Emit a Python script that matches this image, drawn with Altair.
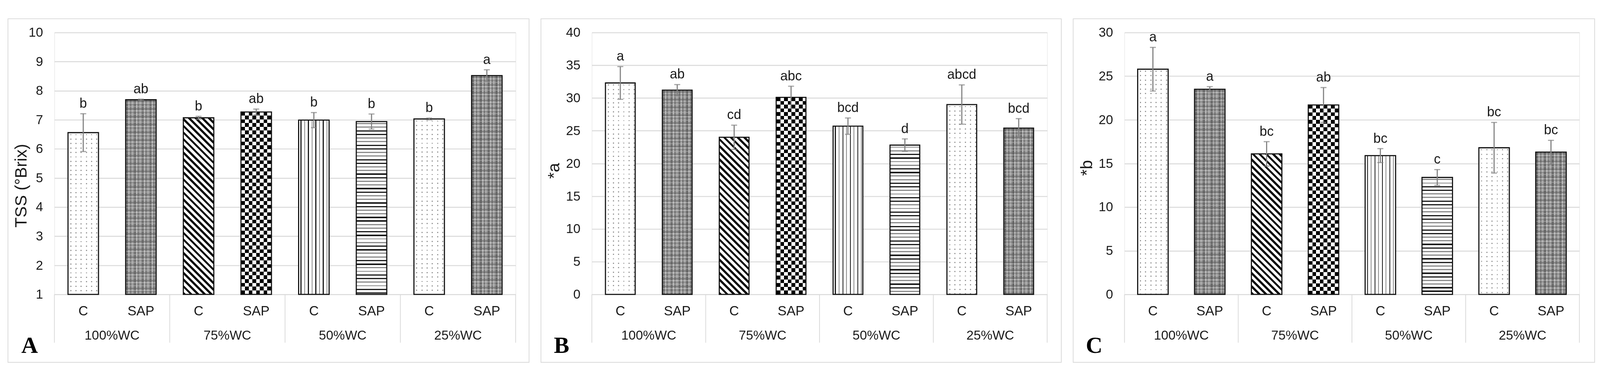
import math
import altair as alt
import pandas as pd

# ---------------- data ----------------
groups = ["100%WC", "75%WC", "50%WC", "25%WC"]
treatments = ["C", "SAP"]

tss_mean = [6.56, 7.69, 7.07, 7.27, 6.99, 6.94, 7.03, 8.52]
tss_se = [0.65, 0.02, 0.05, 0.10, 0.26, 0.26, 0.03, 0.20]
tss_letters = ["b", "ab", "b", "ab", "b", "b", "b", "a"]

a_mean = [32.3, 31.2, 24.0, 30.1, 25.7, 22.8, 29.0, 25.4]
a_se = [2.5, 0.85, 1.85, 1.7, 1.25, 0.95, 3.0, 1.45]
a_letters = ["a", "ab", "cd", "abc", "bcd", "d", "abcd", "bcd"]

b_mean = [25.8, 23.5, 16.1, 21.7, 15.9, 13.4, 16.8, 16.3]
b_se = [2.5, 0.3, 1.4, 2.0, 0.8, 0.9, 2.9, 1.35]
b_letters = ["a", "a", "bc", "ab", "bc", "c", "bc", "bc"]

tss_ticks = [1, 2, 3, 4, 5, 6, 7, 8, 9, 10]
a_ticks = [0, 5, 10, 15, 20, 25, 30, 35, 40]
b_ticks = [0, 5, 10, 15, 20, 25, 30]

# ---------------- styles ----------------
FONT = "Liberation Sans"
TXT = "#1a1a1a"
GRID = "#d9d9d9"
EBAR = "#808080"
PH = 705
FRAME_TOP = 37
FRAME_BOTTOM = 183

cats = [f"{g}|{t}" for g in groups for t in treatments]
patterns = ["dots", "plaid", "diag", "checker", "vlines", "hlines", "dots", "plaid"]


def stripe_stops(L, period, marks, bg, phase=0.0, denom=None):
    denom = denom or L
    iv = []
    n = int(math.ceil((L + abs(phase)) / period)) + 2
    for k in range(-2, n):
        base = k * period - phase
        for (a, b, c) in marks:
            s, e = max(base + a, 0.0), min(base + b, L)
            if e > s:
                iv.append((s, e, c))
    iv.sort(key=lambda r: r[0])
    stops = []
    pos = 0.0
    for s, e, c in iv:
        if s > pos:
            stops += [(pos, bg), (s, bg)]
        stops += [(s, c), (e, c)]
        pos = e
    if pos < L:
        stops += [(pos, bg), (L, bg)]
    out = []
    last = 0.0
    for p, c in stops:
        off = max(last, round(p / denom, 5))
        last = off
        out.append({"offset": off, "color": c})
    return out


def g_vert(W, period, marks, bg, phase=0.0):
    return {"gradient": "linear", "x1": 0, "y1": 0, "x2": 1, "y2": 0,
            "stops": stripe_stops(W, period, marks, bg, phase)}


def g_horz(H, period, marks, bg, phase=0.0):
    return {"gradient": "linear", "x1": 0, "y1": 0, "x2": 0, "y2": 1,
            "stops": stripe_stops(H, period, marks, bg, phase)}


def g_diag(W, H, period, marks, bg):
    D = W + H * H / W
    return {"gradient": "linear", "x1": 0, "y1": 1, "x2": 1, "y2": 1 - H / W,
            "stops": stripe_stops(W + H, period, marks, bg, 0.0, denom=D)}


def pattern_layers(kind, W, H):
    if kind == "dots":
        return [(g_horz(H, 12, [(0, 3, "#9a9a9a")], "#ffffff", phase=-4), {}),
                (g_vert(W, 14, [(0, 3, "rgba(255,255,255,0)")], "#ffffff", phase=-6), {})]
    if kind == "plaid":
        mv = [(0, 4, "#666666"), (6, 8, "#c4c4c4"), (10, 12, "#747474"), (15, 17, "#b8b8b8")]
        mh = [(0, 4, "rgba(95,95,95,0.5)"), (6, 8, "rgba(210,210,210,0.5)"),
              (10, 12, "rgba(110,110,110,0.5)"), (15, 17, "rgba(190,190,190,0.5)")]
        return [(g_vert(W, 21, mv, "#909090", phase=-2), {}),
                (g_horz(H, 21, mh, "rgba(0,0,0,0)", phase=-2), {})]
    if kind == "diag":
        return [(g_diag(W, H, 18, [(0, 8, "#111111")], "#ffffff"), {})]
    if kind == "checker":
        return [(g_horz(H, 20, [(0, 10, "#000000")], "#ffffff"), {}),
                (g_vert(W, 20, [(0, 10, "#000000")], "#ffffff", phase=-1), {"blend": "difference"})]
    if kind == "vlines":
        return [(g_vert(W, 20, [(0, 3, "#1a1a1a"), (10, 12, "#8a8a8a")], "#ffffff", phase=-5), {})]
    if kind == "hlines":
        mk = [(0, 3, "#8a8a8a"), (9.7, 12.7, "#8a8a8a"), (19.4, 22.9, "#1a1a1a"), (29.1, 32.6, "#1a1a1a")]
        return [(g_horz(H, 38.8, mk, "#ffffff", phase=-4), {})]
    return [("#cccccc", {})]


panel_cfgs = [
    dict(mean=tss_mean, se=tss_se, letters=tss_letters, domain=[1, 10], ticks=tss_ticks,
         title="TSS (°Brix)", tag="A", W=1241, L=125, R=36, BW=82, tx=-89, ty=412, lx=-89),
    dict(mean=a_mean, se=a_se, letters=a_letters, domain=[0, 40], ticks=a_ticks,
         title="*a", tag="B", W=1225, L=137, R=38, BW=80, tx=-102, ty=372, lx=-102),
    dict(mean=b_mean, se=b_se, letters=b_letters, domain=[0, 30], ticks=b_ticks,
         title="*b", tag="C", W=1224, L=138, R=41, BW=82, tx=-101, ty=364, lx=-104),
]

one = pd.DataFrame({"k": [0]})


def make_panel(cfg):
    dmin, dmax = cfg["domain"]
    W, BW = cfg["W"], cfg["BW"]
    df = pd.DataFrame({
        "idx": list(range(8)),
        "cat": cats,
        "group": [g for g in groups for _ in treatments],
        "trt": [t for _ in groups for t in treatments],
        "mean": cfg["mean"],
        "lo": [m - s for m, s in zip(cfg["mean"], cfg["se"])],
        "hi": [m + s for m, s in zip(cfg["mean"], cfg["se"])],
        "letter": cfg["letters"],
        "base": [dmin] * 8,
    })

    xscale = alt.Scale(type="band", domain=cats, paddingInner=0, paddingOuter=0)
    xaxis = alt.Axis(title=None, labelExpr="split(datum.value, '|')[1]", labelAngle=0,
                     ticks=False, tickSize=0, grid=False, domain=True, domainColor=GRID,
                     domainWidth=2, labelFont=FONT, labelFontSize=36, labelColor=TXT,
                     labelPadding=56, labelBaseline="alphabetic")
    yscale = alt.Scale(domain=[dmin, dmax], zero=False, nice=False)
    yaxis = alt.Axis(values=cfg["ticks"], title=cfg["title"], grid=True, gridColor=GRID,
                     gridWidth=2.5, domain=False, ticks=False, labelFont=FONT,
                     labelFontSize=35, labelColor=TXT, labelPadding=31,
                     titleFont=FONT, titleFontSize=45, titleFontWeight="normal",
                     titleColor=TXT, titleX=cfg["tx"], titleY=cfg["ty"], titleAngle=270,
                     titleAlign="center", titleBaseline="middle")

    def X(**kw):
        return alt.X("cat:N", scale=xscale, axis=xaxis, **kw)

    def Y(field):
        return alt.Y(f"{field}:Q", scale=yscale, axis=yaxis)

    base = alt.Chart(df)
    layers = []

    # panel frame
    layers.append(alt.Chart(one).mark_rect(fillOpacity=0, stroke=GRID, strokeWidth=2).encode(
        x=alt.value(-cfg["L"]), x2=alt.value(W + cfg["R"]),
        y=alt.value(-FRAME_TOP), y2=alt.value(PH + FRAME_BOTTOM)))

    # patterned bars
    for i in range(8):
        H = (cfg["mean"][i] - dmin) / (dmax - dmin) * PH
        for grad, extra in pattern_layers(patterns[i], BW, H):
            layers.append(base.transform_filter(alt.datum.idx == i).mark_bar(
                width=BW, fill=grad, **extra).encode(x=X(), y=Y("mean"), y2=alt.Y2("base:Q")))

    # bar outlines
    layers.append(base.mark_bar(width=BW, fillOpacity=0, stroke="#111111", strokeWidth=3).encode(
        x=X(), y=Y("mean"), y2=alt.Y2("base:Q")))

    # error bars
    layers.append(base.mark_rule(color=EBAR, strokeWidth=3).encode(
        x=X(), y=Y("lo"), y2=alt.Y2("hi:Q")))
    layers.append(base.mark_tick(color=EBAR, thickness=3, size=16).encode(x=X(), y=Y("hi")))
    layers.append(base.mark_tick(color=EBAR, thickness=3, size=16).encode(x=X(), y=Y("lo")))

    # significance letters
    layers.append(base.mark_text(font=FONT, fontSize=36, color=TXT, baseline="alphabetic",
                                 dy=-16).encode(x=X(), y=Y("hi"), text="letter:N"))

    # category table separators
    layers.append(base.transform_filter(alt.datum.trt == "C").mark_rule(
        color=GRID, strokeWidth=2).encode(x=X(bandPosition=0), y=alt.value(PH),
                                          y2=alt.value(PH + 130)))
    layers.append(alt.Chart(one).mark_rule(color=GRID, strokeWidth=2).encode(
        x=alt.value(W), y=alt.value(PH), y2=alt.value(PH + 130)))

    # group labels
    layers.append(base.transform_filter(alt.datum.trt == "C").mark_text(
        font=FONT, fontSize=35, color=TXT, baseline="alphabetic", align="center").encode(
        x=X(bandPosition=1), y=alt.value(PH + 122), text="group:N"))

    # panel tag
    layers.append(alt.Chart(one).mark_text(
        text=cfg["tag"], font="Liberation Serif", fontWeight="bold", fontSize=62,
        color="#000000", align="left", baseline="alphabetic").encode(
        x=alt.value(cfg["lx"]), y=alt.value(PH + 158)))

    return alt.layer(*layers).properties(width=W, height=PH)


chart = alt.hconcat(*[make_panel(c) for c in panel_cfgs], spacing=28).properties(
    padding={"left": 11, "top": 16, "right": 4, "bottom": 4}
).configure_view(stroke=None).configure(background="white", font=FONT)

chart.save("out.html", embed_options={"renderer": "svg", "actions": False})
